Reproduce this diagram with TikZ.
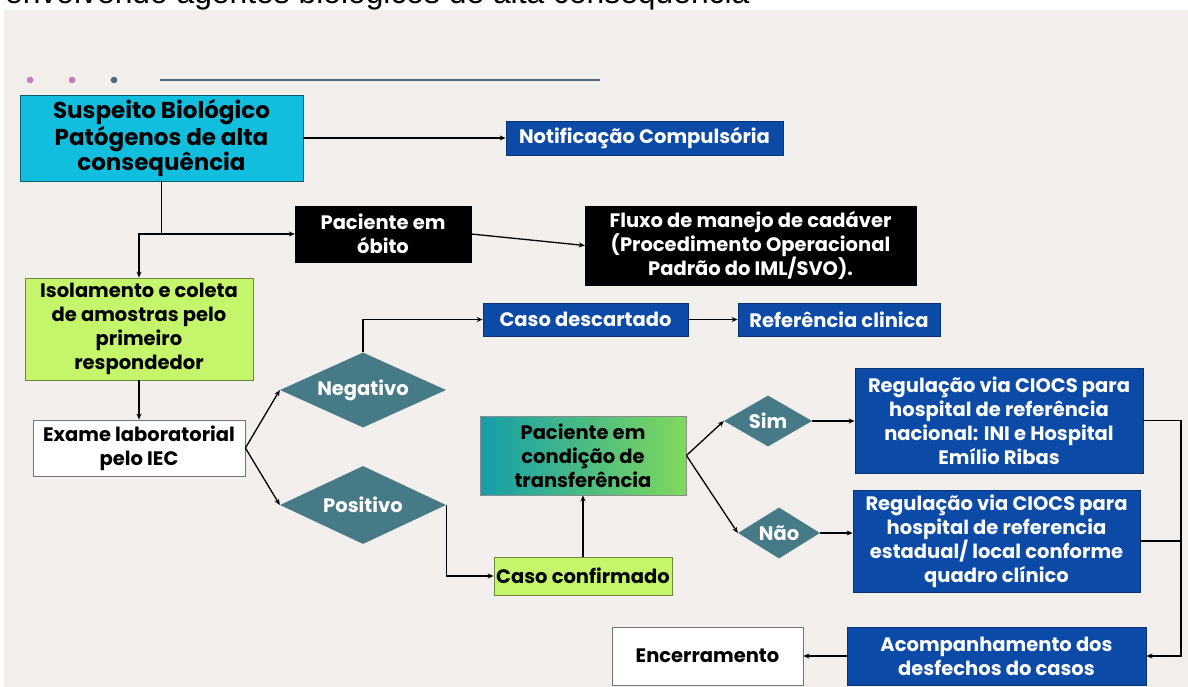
\documentclass[tikz,border=0pt]{standalone}
\usepackage{fontspec}
\setmainfont{Poppins}
\newfontfamily\arialf{Liberation Sans}
\usetikzlibrary{shapes.geometric,arrows.meta}
\definecolor{bgc}{RGB}{243,239,236}
\definecolor{cyanb}{RGB}{17,190,222}
\definecolor{blueb}{RGB}{12,74,168}
\definecolor{greenb}{RGB}{196,245,106}
\definecolor{teald}{RGB}{70,122,135}
\definecolor{gradl}{RGB}{20,158,170}
\definecolor{gradr}{RGB}{128,216,92}
\definecolor{pinkd}{RGB}{205,120,200}
\definecolor{slate}{RGB}{80,105,120}
\begin{document}
\begin{tikzpicture}[x=1pt,y=-1pt,
  base/.style={rectangle, inner sep=0pt, align=center, font=\bfseries\fontsize{19.5}{24}\selectfont},
  bluebox/.style={base, fill=blueb, draw=blueb!70!black, line width=0.8pt, text=white},
  blackbox/.style={base, fill=black, draw=black, text=white},
  greenbox/.style={base, fill=greenb, draw=greenb!55!black, line width=0.8pt, text=black},
  whitebox/.style={base, fill=white, draw=black!55, line width=0.8pt, text=black},
  dec/.style={diamond, inner sep=0pt, aspect=2.2, fill=teald, text=white, font=\bfseries\fontsize{19.5}{22}\selectfont},
  arr/.style={line width=1.3pt, -{Stealth[length=6pt,width=5pt]}},
  ln/.style={line width=1.3pt}]
\useasboundingbox (0,0) rectangle (1188,687);
\clip (0,0) rectangle (1188,687);
\fill[white] (0,0) rectangle (1188,687);
\node[anchor=base west, inner sep=0pt, font=\arialf\fontsize{31.8}{36}\selectfont] (title) at (5,4) {envolvendo agentes biológicos de alta consequência};
\fill[bgc] (4,10) rectangle (1188,687);
% decoration
\fill[pinkd] (30,80) circle (3.3);
\fill[pinkd] (72,80) circle (3.3);
\fill[slate] (114,80) circle (3.3);
\draw[slate, line width=1.3pt] (160,80) -- (600,80);
% nodes
\node[base, fill=cyanb, draw=cyanb!50!black, line width=0.8pt, minimum width=283, minimum height=86,
      font=\bfseries\fontsize{23}{25}\selectfont] (sus) at (161.5,138) {Suspeito Biológico\\Patógenos de alta\\consequência};
\node[bluebox, minimum width=277, minimum height=34] (notif) at (644.5,138) {Notificação Compulsória};
\node[blackbox, minimum width=176, minimum height=56] (pac) at (383,234) {Paciente em\\óbito};
\node[blackbox, minimum width=331, minimum height=79] (flux) at (750.5,245.5) {Fluxo de manejo de cadáver\\(Procedimento Operacional\\Padrão do IML/SVO).};
\node[greenbox, minimum width=228, minimum height=102] (iso) at (139,329) {Isolamento e coleta\\de amostras pelo\\primeiro\\respondedor};
\node[whitebox, minimum width=212, minimum height=56] (exa) at (139,448) {Exame laboratorial\\pelo IEC};
\node[dec, minimum width=166, minimum height=75] (neg) at (363,390) {Negativo};
\node[dec, minimum width=166, minimum height=78] (pos) at (363,505) {Positivo};
\node[bluebox, minimum width=205, minimum height=33] (desc) at (585.5,319.5) {Caso descartado};
\node[bluebox, minimum width=202, minimum height=33] (ref) at (839,319.5) {Referência clinica};
\node[greenbox, minimum width=178, minimum height=38] (conf) at (583,576) {Caso confirmado};
\node[base, shading=axis, left color=gradl, right color=gradr, draw=black!45, line width=0.8pt,
      minimum width=206, minimum height=79] (cond) at (583,455.5) {Paciente em\\condição de\\transferência};
\node[dec, minimum width=88, minimum height=51] (sim) at (768,421) {Sim};
\node[dec, minimum width=82, minimum height=51] (nao) at (779,533) {Não};
\node[bluebox, minimum width=288, minimum height=105] (reg1) at (999,420.5) {Regulação via CIOCS para\\hospital de referência\\nacional: INI e Hospital\\Emílio Ribas};
\node[bluebox, minimum width=287, minimum height=102] (reg2) at (996.5,541) {Regulação via CIOCS para\\hospital de referencia\\estadual/ local conforme\\quadro clínico};
\node[bluebox, minimum width=299, minimum height=58] (acomp) at (996.5,656) {Acompanhamento dos\\desfechos do casos};
\node[whitebox, minimum width=191, minimum height=58] (enc) at (707.5,656) {Encerramento};
\coordinate (rr) at (1181,0);
% connectors
\draw[arr] (sus.east) -- (notif.west);
\draw[arr] (sus.south) |- (pac.west);
\coordinate (j1) at (sus.south |- pac.west);
\draw[arr] (j1) -| (iso.north);
\draw[arr] (pac.east) -- (flux.west);
\draw[arr] (iso.south) -- (exa.north);
\draw[arr] (exa.east) -- (neg.west);
\draw[arr] (exa.east) -- (pos.west);
\draw[arr] (neg.north) |- (desc.west);
\draw[arr] (desc.east) -- (ref.west);
\draw[arr] (pos.east) |- (conf.west);
\draw[arr] (conf.north) -- (cond.south);
\draw[arr] (cond.east) -- (sim.west);
\draw[arr] (cond.east) -- (nao.west);
\draw[arr] (sim.east) -- (sim.east -| reg1.west);
\draw[arr] (nao.east) -- (nao.east -| reg2.west);
\draw[arr] (reg1.east) -- (reg1.east -| rr) |- (acomp.east);
\draw[ln] (reg2.east) -- (reg2.east -| rr);
\draw[arr] (acomp.west) -- (enc.east);
\end{tikzpicture}
\end{document}
